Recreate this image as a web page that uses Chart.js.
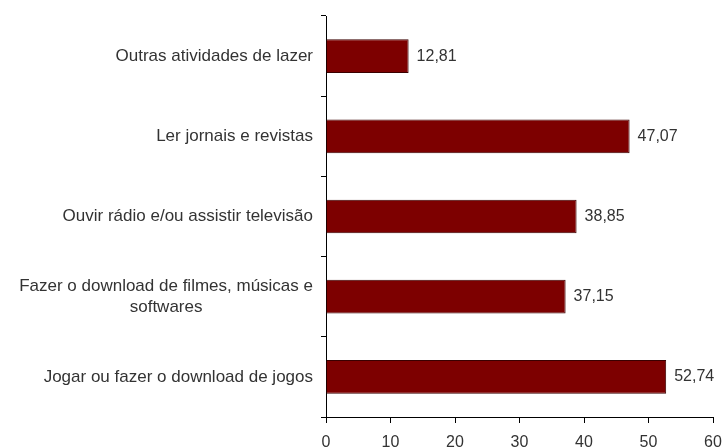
<!DOCTYPE html>
<html>
<head>
<meta charset="utf-8">
<script src="https://cdn.jsdelivr.net/npm/chart.js@4"></script>
<style>
  html, body { margin: 0; padding: 0; background: #fff; }
  #wrap { width: 722px; height: 448px; }
</style>
</head>
<body>
<div id="wrap"><canvas id="chart" width="722" height="448"></canvas></div>
<script>
// categories, top to bottom
const categories = [
  ['Outras atividades de lazer'],
  ['Ler jornais e revistas'],
  ['Ouvir rádio e/ou assistir televisão'],
  ['Fazer o download de filmes, músicas e', 'softwares'],
  ['Jogar ou fazer o download de jogos']
];
const values = [12.81, 47.07, 38.85, 37.15, 52.74];
const xTicks = [0, 10, 20, 30, 40, 50, 60];

const FONT = 'Liberation Sans, Arial, sans-serif';
const TEXT = '#333333';

// format like "12,81"
const fmt = v => v.toFixed(2).replace('.', ',');

// category names drawn next to the y axis; multi-line names are centred as a block
const yLabels = {
  id: 'yLabels',
  afterDraw(chart) {
    const ctx = chart.ctx;
    const y = chart.scales.y;
    const right = chart.chartArea.left - 13;
    ctx.save();
    ctx.font = '17px ' + FONT;
    ctx.fillStyle = TEXT;
    ctx.textBaseline = 'middle';
    ctx.textAlign = 'center';
    categories.forEach((lines, i) => {
      const cy = y.getPixelForValue(i);
      const w = Math.max(...lines.map(l => ctx.measureText(l).width));
      const lh = 21;
      const y0 = cy - (lines.length - 1) * lh / 2;
      lines.forEach((l, j) => ctx.fillText(l, right - w / 2, y0 + j * lh));
    });
    ctx.restore();
  }
};

// value printed after each bar
const valueLabels = {
  id: 'valueLabels',
  afterDatasetsDraw(chart) {
    const ctx = chart.ctx;
    const meta = chart.getDatasetMeta(0);
    ctx.save();
    ctx.font = '16px ' + FONT;
    ctx.fillStyle = TEXT;
    ctx.textAlign = 'left';
    ctx.textBaseline = 'middle';
    meta.data.forEach((bar, i) => {
      ctx.fillText(fmt(values[i]), bar.x + 8, bar.y);
    });
    ctx.restore();
  }
};

new Chart(document.getElementById('chart'), {
  type: 'bar',
  data: {
    labels: categories.map(c => c.join(' ')),
    datasets: [{
      data: values,
      backgroundColor: '#7d0000',
      borderColor: '#3a0000',
      borderWidth: 1,
      barPercentage: 0.42,
      categoryPercentage: 1
    }]
  },
  options: {
    indexAxis: 'y',
    responsive: false,
    animation: false,
    layout: { padding: { top: 16, right: 9, left: 0, bottom: 0 } },
    plugins: { legend: { display: false }, tooltip: { enabled: false } },
    scales: {
      x: {
        min: 0,
        max: 60,
        afterBuildTicks: s => { s.ticks = xTicks.map(v => ({ value: v })); },
        afterFit: s => { s.height = 31; s.paddingRight = 0; s.paddingLeft = 0; },
        grid: { drawOnChartArea: false, tickLength: 6, color: '#000', lineWidth: 1 },
        border: { color: '#000', width: 1 },
        ticks: { color: TEXT, font: { family: FONT, size: 16 }, padding: 10, maxRotation: 0 }
      },
      y: {
        afterFit: s => { s.width = 326; },
        grid: { drawOnChartArea: false, offset: true, tickLength: 5, color: '#000', lineWidth: 1 },
        border: { color: '#000', width: 1 },
        ticks: { display: false }
      }
    }
  },
  plugins: [yLabels, valueLabels]
});
</script>
</body>
</html>
